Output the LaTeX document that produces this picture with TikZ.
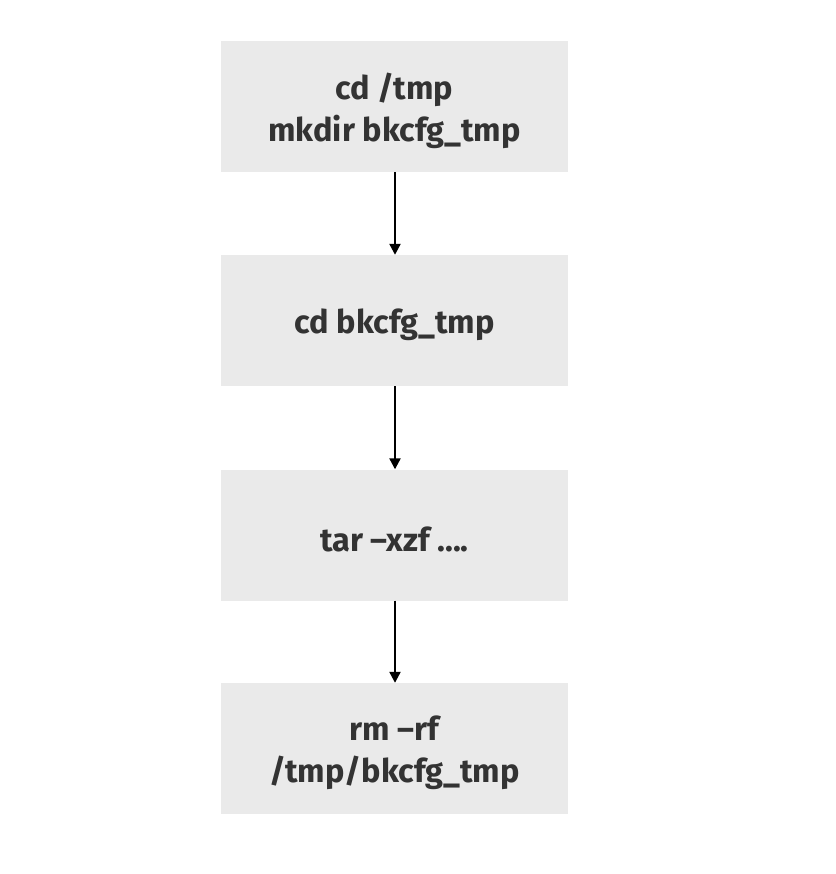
\documentclass[tikz,border=0pt]{standalone}
\usepackage{fontspec}
\setmainfont{Fira Sans}
\usetikzlibrary{arrows.meta}
\begin{document}
\begin{tikzpicture}[x=1bp,y=-1bp,
  stepbox/.style={fill=boxgray, minimum width=347bp, minimum height=131bp, inner sep=0pt,
    label={[steptext]center:#1}},
  steptext/.style={align=center, text=textgray, yshift=-4bp, inner sep=0pt,
    font=\fontsize{32.5bp}{42bp}\selectfont\bfseries},
  flow/.style={draw=black, line width=2.2bp, -{Triangle[length=11bp,width=11bp]}}]
\definecolor{boxgray}{HTML}{EAEAEA}
\definecolor{textgray}{HTML}{333333}
\useasboundingbox (0,0) rectangle (836,874);
\node[stepbox={cd /tmp\\mkdir bkcfg\_tmp}] (a) at (394.5,106.5) {};
\node[stepbox={cd bkcfg\_tmp}] (b) at (394.5,320.5) {};
\node[stepbox={tar –xzf ....}] (c) at (394.5,535) {};
\node[stepbox={rm –rf\\/tmp/bkcfg\_tmp}] (d) at (394.5,748.5) {};
\draw[flow] (a.south) ++(0.5,0) coordinate (a1) (a1) -- (a1 |- b.north);
\draw[flow] (b.south) ++(0.5,0) coordinate (b1) (b1) -- (b1 |- c.north);
\draw[flow] (c.south) ++(0.5,0) coordinate (c1) (c1) -- (c1 |- d.north);
\end{tikzpicture}
\end{document}
